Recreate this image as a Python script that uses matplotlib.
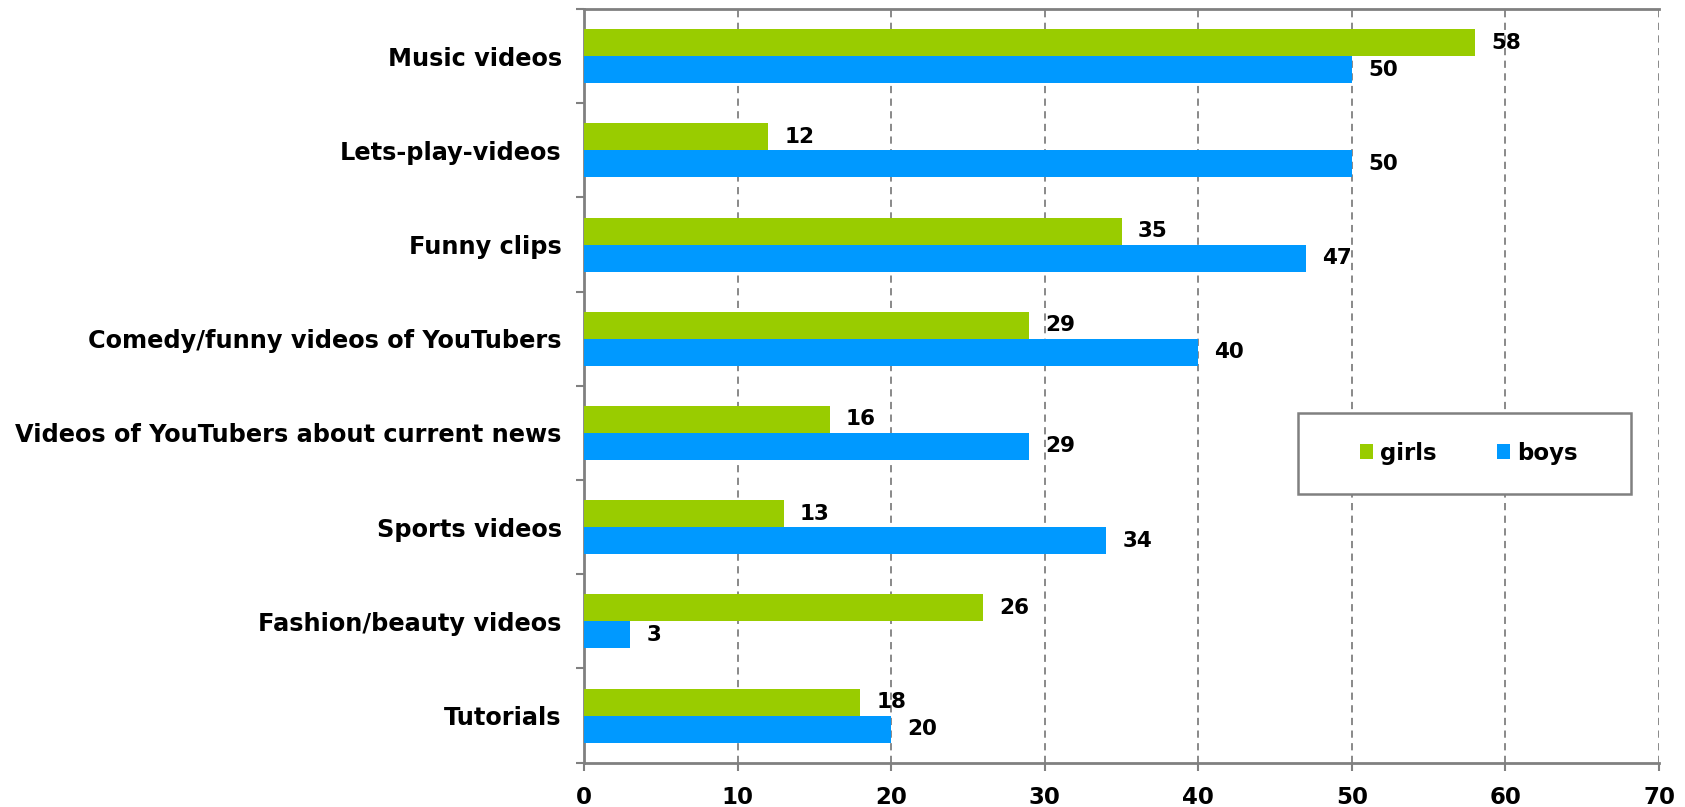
import matplotlib
matplotlib.use("Agg")
import matplotlib.pyplot as plt
from matplotlib.patches import Patch, Rectangle
import numpy as np

categories = [
    "Music videos",
    "Lets-play-videos",
    "Funny clips",
    "Comedy/funny videos of YouTubers",
    "Videos of YouTubers about current news",
    "Sports videos",
    "Fashion/beauty videos",
    "Tutorials",
]
girls = [58, 12, 35, 29, 16, 13, 26, 18]
boys = [50, 50, 47, 40, 29, 34, 3, 20]
x_ticks = [0, 10, 20, 30, 40, 50, 60, 70]

GREEN = "#99CC00"
BLUE = "#0099FF"
AXIS_GRAY = "#808080"

plt.rcParams["font.family"] = ["DejaVu Sans"]
plt.rcParams["font.weight"] = "bold"

fig = plt.figure(figsize=(16.85, 8.07), dpi=100)
ax = fig.add_axes([0.3466, 0.0549, 0.6380, 0.9339])

n = len(categories)
y = np.arange(n)
h = 0.287

bg = ax.barh(y - h / 2, girls, height=h, color=GREEN, zorder=3)
bb = ax.barh(y + h / 2, boys, height=h, color=BLUE, zorder=3)

for bars, vals in ((bg, girls), (bb, boys)):
    for rect, v in zip(bars, vals):
        ax.text(v + 1.05, rect.get_y() + rect.get_height() / 2, str(v),
                va="center", ha="left", fontsize=15.5, fontweight="bold",
                color="black", zorder=4)

ax.set_xlim(0, 70)
ax.set_ylim(n - 0.5, -0.5)
ax.set_xticks(x_ticks)
ax.set_xticklabels([str(t) for t in x_ticks], fontsize=16.5, fontweight="bold")
ax.tick_params(axis="x", length=6, width=1.5, color=AXIS_GRAY, pad=10.5,
               direction="out")

# category labels centred between boundary ticks
ax.set_yticks(y)
ax.set_yticklabels(categories, fontsize=17.3, fontweight="bold")
ax.tick_params(axis="y", which="major", length=0, pad=16)
ax.set_yticks(np.arange(-0.5, n, 1.0), minor=True)
ax.tick_params(axis="y", which="minor", length=6, width=1.5,
               color=AXIS_GRAY, direction="out")

ax.xaxis.grid(True, linestyle=(0, (4, 3)), color=AXIS_GRAY, linewidth=1.3,
              zorder=0)
ax.set_axisbelow(True)

for side in ("left", "bottom", "top"):
    ax.spines[side].set_color(AXIS_GRAY)
    ax.spines[side].set_linewidth(2)
ax.spines["right"].set_visible(False)

# legend box
box = (0.664, 0.357, 0.310, 0.107)
ax.add_patch(Rectangle(box[:2], box[2], box[3], transform=ax.transAxes,
                       facecolor="white", edgecolor=AXIS_GRAY, linewidth=1.8,
                       zorder=5, clip_on=False))
handles = [Patch(facecolor=GREEN, label="girls"),
           Patch(facecolor=BLUE, label="boys")]
leg = ax.legend(handles=handles, loc="center",
                bbox_to_anchor=(box[0] + 0.004, box[1], box[2], box[3]),
                ncol=2, frameon=False, handlelength=0.6, handleheight=0.6,
                handletextpad=0.3, columnspacing=2.6,
                prop={"weight": "bold", "size": 16.5})
leg.set_zorder(6)

fig.savefig("out.png", dpi=100, facecolor="white")
